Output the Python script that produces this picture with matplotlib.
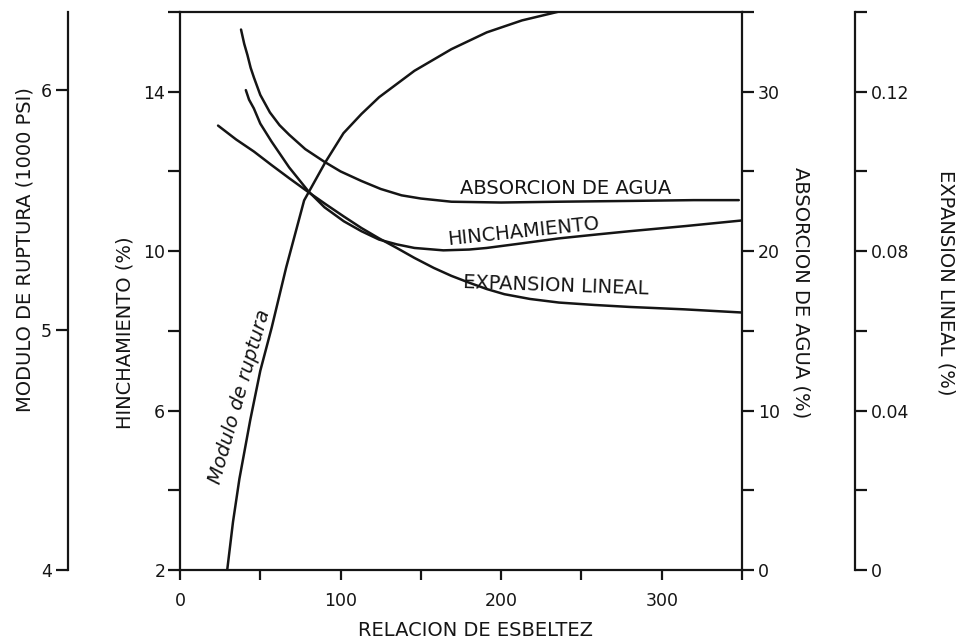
import matplotlib.pyplot as plt

# valores
ticks_x = [0, 100, 200, 300]
ticks_x_minor = [50, 150, 250, 350]

# absorcion de agua (%)
esb_abs = [38, 40, 42, 44, 46, 50, 56, 62, 68, 78, 90, 100, 113, 125, 138, 150, 169, 200, 236, 280, 320, 348]
absorcion = [33.9, 33.0, 32.3, 31.5, 30.9, 29.8, 28.7, 27.9, 27.3, 26.4, 25.6, 25.0, 24.4, 23.9, 23.5,
             23.3, 23.1, 23.05, 23.1, 23.15, 23.2, 23.2]

# hinchamiento (%)
esb_hin = [41, 43, 46, 50, 57, 68, 80, 90, 102, 113, 124, 135, 146, 164, 180, 191, 210, 236, 260, 280, 315, 350]
hinchamiento = [14.04, 13.8, 13.58, 13.2, 12.75, 12.1, 11.5, 11.1, 10.75, 10.5, 10.29, 10.17, 10.08, 10.02,
                10.04, 10.08, 10.18, 10.32, 10.42, 10.5, 10.63, 10.77]

# expansion lineal (%)
esb_exp = [23.7, 35, 46, 57, 68, 80, 91, 102, 113, 124, 135, 146, 158, 169, 180, 191, 202, 218, 236, 258,
           280, 314, 350]
expansion = [0.1115, 0.108, 0.105, 0.1016, 0.0983, 0.0948, 0.0917, 0.0887, 0.0858, 0.0832, 0.0808, 0.0783,
             0.0758, 0.0738, 0.0721, 0.0705, 0.0692, 0.068, 0.0671, 0.0665, 0.066, 0.0654, 0.0646]

# modulo de ruptura (1000 psi)
esb_mod = [29.4, 33, 37, 43.75, 50, 57.1, 66.1, 77.3, 90.6, 101.8, 113, 124, 146, 169, 191, 213, 238]
modulo = [4.0, 4.2, 4.38, 4.625, 4.83, 5.01, 5.26, 5.54, 5.7, 5.82, 5.9, 5.97, 6.08, 6.17, 6.24, 6.29, 6.33]

plt.rcParams['font.family'] = 'DejaVu Sans'
ink = '#151515'
W, H = 960, 641
px = 72 / 100  # puntos por pixel
lw_axis = 1.6
lw_curve = 1.8
tick_fs = 12.5
lab_fs = 14

fig = plt.figure(figsize=(9.6, 6.41), dpi=100)
fig.patch.set_facecolor('white')
ax = fig.add_axes([180 / W, 1 - 570 / H, 562 / W, 558 / H])
ax.set_facecolor('none')

# eje principal: hinchamiento
ax.set_xlim(0, 350)
ax.set_ylim(2, 16)
ax.set_xticks(ticks_x)
ax.set_xticks(ticks_x_minor, minor=True)
ax.set_xticklabels([str(t) for t in ticks_x])
ax.set_yticks([2, 6, 10, 14])
ax.set_yticks([4, 8, 12, 16], minor=True)
ax.set_yticklabels(['2', '6', '10', '14'])
ax.spines['right'].set_visible(False)
for s in ['left', 'bottom', 'top']:
    ax.spines[s].set_linewidth(lw_axis)
    ax.spines[s].set_color(ink)
ax.tick_params(axis='y', which='both', direction='out', length=8.6, width=lw_axis, color=ink,
               labelsize=tick_fs, labelcolor=ink, pad=2)
ax.tick_params(axis='x', which='both', direction='out', length=7.5, width=lw_axis, color=ink,
               labelsize=tick_fs, labelcolor=ink, pad=8)

# absorcion de agua
ax_abs = ax.twinx()
ax_abs.set_ylim(0, 35)
ax_abs.set_yticks([0, 10, 20, 30])
ax_abs.set_yticks([5, 15, 25, 35], minor=True)
ax_abs.set_yticklabels(['0', '10', '20', '30'])

# expansion lineal
ax_exp = ax.twinx()
ax_exp.set_ylim(0, 0.14)
ax_exp.set_yticks([0, 0.04, 0.08, 0.12])
ax_exp.set_yticks([0.02, 0.06, 0.10, 0.14], minor=True)
ax_exp.set_yticklabels(['0', '0.04', '0.08', '0.12'])
ax_exp.spines['right'].set_position(('outward', 113 * px))

# modulo de ruptura
ax_mod = ax.twinx()
ax_mod.set_ylim(4, 6.325)
ax_mod.yaxis.tick_left()
ax_mod.set_yticks([4, 5, 6])
ax_mod.set_yticklabels(['4', '5', '6'])
ax_mod.spines['left'].set_visible(True)
ax_mod.spines['left'].set_position(('outward', 112 * px))

for a, side in [(ax_abs, 'right'), (ax_exp, 'right'), (ax_mod, 'left')]:
    a.set_facecolor('none')
    for s in ['left', 'right', 'top', 'bottom']:
        a.spines[s].set_visible(s == side)
    a.spines[side].set_linewidth(lw_axis)
    a.spines[side].set_color(ink)
    a.tick_params(axis='y', which='both', direction='out', length=8.6, width=lw_axis, color=ink,
                  labelsize=tick_fs, labelcolor=ink, pad=3)

# curvas
ax_abs.plot(esb_abs, absorcion, color=ink, lw=lw_curve, solid_capstyle='round')
ax.plot(esb_hin, hinchamiento, color=ink, lw=lw_curve, solid_capstyle='round')
ax_exp.plot(esb_exp, expansion, color=ink, lw=lw_curve, solid_capstyle='round')
ax_mod.plot(esb_mod, modulo, color=ink, lw=lw_curve, solid_capstyle='round')

# rotulos de las curvas
ax.text(240, 11.58, 'ABSORCION DE AGUA', fontsize=lab_fs, color=ink, ha='center', va='center')
ax.text(214, 10.48, 'HINCHAMIENTO', fontsize=lab_fs, color=ink, ha='center', va='center', rotation=6)
ax.text(234, 9.13, 'EXPANSION LINEAL', fontsize=lab_fs, color=ink, ha='center', va='center', rotation=-2)
ax.text(37, 6.35, 'Modulo de ruptura', fontsize=lab_fs, color=ink, ha='center', va='center',
        rotation=74, style='italic')

# titulos de los ejes
fig.text(25 / W, 1 - 250 / H, 'MODULO DE RUPTURA (1000 PSI)', fontsize=lab_fs, color=ink,
         rotation=90, ha='center', va='center')
fig.text(125 / W, 1 - 333 / H, 'HINCHAMIENTO (%)', fontsize=lab_fs, color=ink,
         rotation=90, ha='center', va='center')
fig.text(801 / W, 1 - 293 / H, 'ABSORCION DE AGUA (%)', fontsize=lab_fs, color=ink,
         rotation=-90, ha='center', va='center')
fig.text(946 / W, 1 - 283 / H, 'EXPANSION LINEAL (%)', fontsize=lab_fs, color=ink,
         rotation=-90, ha='center', va='center')
fig.text(476 / W, 1 - 630 / H, 'RELACION DE ESBELTEZ', fontsize=lab_fs, color=ink,
         ha='center', va='center')

fig.savefig('out.png', dpi=100, facecolor='white')
